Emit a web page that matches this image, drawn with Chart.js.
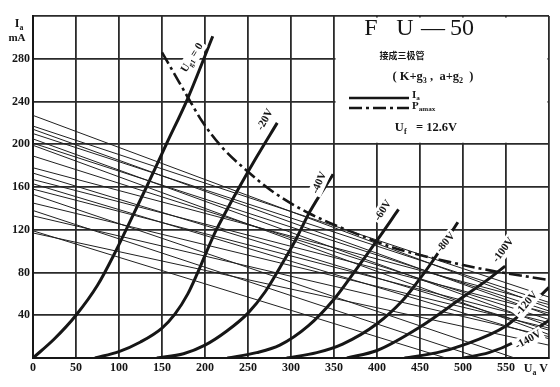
<!DOCTYPE html>
<html>
<head>
<meta charset="utf-8">
<script src="https://cdn.jsdelivr.net/npm/chart.js@4.4.1/dist/chart.umd.min.js"></script>
<style>
  html, body { margin: 0; padding: 0; background: #fff; }
  #wrap { width: 560px; height: 387px; }
</style>
</head>
<body>
<div id="wrap"><canvas id="chart"></canvas></div>
<script>
// FU-50 接成三极管 — anode characteristics, Ia (mA) vs Ua (V)

// thick curves, one per grid-1 voltage: [Ua V, Ia mA]
const ug0   = [[0,0],[25,18],[50,40],[75,68],[95,98],[110,123],[132,160],[155,200],[180,243],[209,301]];
const ug20  = [[72,0],[100,6],[125,15],[150,28],[165,41],[180,60],[191,79],[200,96],[212,118],[225,138],[240,160],[260,188],[284,220]];
const ug40  = [[144,0],[175,4],[200,12],[225,25],[250,42],[270,62],[291,90],[305,110],[322,137],[349,172]];
const ug60  = [[226,0],[260,5],[287,12],[320,30],[350,55],[375,82],[400,110],[425,139]];
const ug80  = [[295,0],[330,5],[360,13],[400,32],[430,54],[446,70],[465,91],[494,127]];
const ug100 = [[365,0],[400,7],[450,29],[500,57],[530,74],[549,86]];
const ug120 = [[432,0],[470,5],[500,12],[550,30],[575,47],[600,66]];
const ug140 = [[500,0],[530,5],[560,15],[600,35]];

// Pa max (dash-dot)
const paMax = [[150,286],[165,265],[180,244],[197,221],[220,197],[249,175],[280,155],[322,135],[380,115],[420,103],[462,94],[531,82],[600,73]];

// thin straight lines: Ia at Ua = 0, and where each one ends
const lineStartI = [227, 217, 214, 210, 205, 201, 199, 189, 178, 173, 167, 163, 158, 153, 145, 138, 133, 119, 117];
const lineEnd    = [[600,47],[600,57],[600,40],[600,52],[600,30],[600,44],[600,22],[600,36],[600,50],[600,26],
                    [600,42],[600,18],[600,33],[560,0],[600,28],[520,0],[600,20],[480,0],[600,12]];

const xTicks = [0, 50, 100, 150, 200, 250, 300, 350, 400, 450, 500, 550];
const yTicks = [40, 80, 120, 160, 200, 240, 280];

// curve captions: text, anchor [Ua, Ia], angle (deg)
const curveNames  = ['0', '-20V', '-40V', '-60V', '-80V', '-100V', '-120V', '-140V'];
const labelAnchor = [[185,281],[270,223],[333,164],[407,138],[480,108],[547,101],[574,51],[576,17]];
const labelAngle  = [-58, -61, -66, -57, -50, -53, -50, -29];

const INK = '#161616';
const SERIF = '"Liberation Serif", "DejaVu Serif", serif';

const pts = arr => arr.map(([x, y]) => ({ x, y }));

const thinSets = lineStartI.map((i0, k) => ({
  data: [{ x: 0, y: i0 }, { x: lineEnd[k][0], y: lineEnd[k][1] }],
  borderColor: '#202020', borderWidth: 1, showLine: true, pointRadius: 0,
}));

const thickSets = [ug0, ug20, ug40, ug60, ug80, ug100, ug120, ug140].map(c => ({
  data: pts(c),
  borderColor: INK, borderWidth: 3, showLine: true, pointRadius: 0,
  cubicInterpolationMode: 'monotone',
}));

const paSet = {
  data: pts(paMax),
  borderColor: INK, borderWidth: 2.6, borderDash: [13, 4, 3, 4],
  showLine: true, pointRadius: 0, cubicInterpolationMode: 'monotone',
};

// text with subscripts, parts = [[text, isSub], ...]
function rich(ctx, parts, x, y, size, align) {
  const font = s => `bold ${s}px ${SERIF}`;
  let w = 0;
  parts.forEach(([t, sub]) => { ctx.font = font(sub ? size * 0.65 : size); w += ctx.measureText(t).width; });
  let cx = align === 'center' ? x - w / 2 : align === 'right' ? x - w : x;
  ctx.textAlign = 'left';
  ctx.textBaseline = 'middle';
  parts.forEach(([t, sub]) => {
    ctx.font = font(sub ? size * 0.65 : size);
    ctx.fillText(t, cx, sub ? y + size * 0.3 : y);
    cx += ctx.measureText(t).width;
  });
  return w;
}

const paperPlugin = {
  id: 'paper',
  beforeDatasetsDraw(chart) {
    const { ctx, scales: { x, y } } = chart;
    // legend box blanks the grid behind it
    const l = x.getPixelForValue(350), r = x.getPixelForValue(600);
    const t = y.getPixelForValue(320), b = y.getPixelForValue(200);
    ctx.save();
    ctx.fillStyle = '#fff';
    ctx.fillRect(l + 1.5, t + 1.5, r - l - 3, b - t - 3);
    ctx.restore();
  },
  afterDatasetsDraw(chart) {
    const { ctx, scales: { x, y }, chartArea: ca } = chart;
    ctx.save();
    ctx.fillStyle = INK;

    // axis units
    rich(ctx, [['I', false], ['a', true]], 19, 24, 12, 'center');
    rich(ctx, [['mA', false]], 17, 38, 11, 'center');
    rich(ctx, [['U', false], ['a', true], [' V', false]], ca.right - 1, ca.bottom + 11, 12, 'right');

    // legend box
    const l = x.getPixelForValue(350);
    ctx.font = `24px ${SERIF}`;
    ctx.textBaseline = 'middle';
    ctx.textAlign = 'center';
    ctx.fillText('F', l + 37, 29);
    ctx.fillText('U', l + 71, 29);
    ctx.fillText('—', l + 99, 29);
    ctx.fillText('50', l + 128, 29);

    ctx.font = `bold 9px "Noto Sans CJK SC", sans-serif`;
    ctx.fillText('接成三极管', l + 68, 56);

    rich(ctx, [['( K+g', false], ['3', true], [' ,  a+g', false], ['2', true], ['  )', false]], l + 99, 77, 12.5, 'center');

    ctx.lineWidth = 2.6;
    ctx.strokeStyle = INK;
    ctx.beginPath(); ctx.moveTo(l + 15, 98); ctx.lineTo(l + 75, 98); ctx.stroke();
    ctx.setLineDash([13, 4, 3, 4]);
    ctx.beginPath(); ctx.moveTo(l + 15, 108); ctx.lineTo(l + 75, 108); ctx.stroke();
    ctx.setLineDash([]);
    rich(ctx, [['I', false], ['a', true]], l + 78, 95, 11, 'left');
    rich(ctx, [['P', false], ['amax', true]], l + 78, 106, 11, 'left');
    rich(ctx, [['U', false], ['f', true], ['   = 12.6V', false]], l + 92, 128, 12.5, 'center');

    // curve captions
    curveNames.forEach((name, k) => {
      const px = x.getPixelForValue(labelAnchor[k][0]);
      const py = y.getPixelForValue(labelAnchor[k][1]);
      ctx.save();
      ctx.translate(px, py);
      ctx.rotate(labelAngle[k] * Math.PI / 180);
      const parts = k === 0 ? [['U', false], ['g1', true], [' = 0', false]] : [[name, false]];
      let w = 0;
      parts.forEach(([t, sub]) => { ctx.font = `bold ${sub ? 7 : 11}px ${SERIF}`; w += ctx.measureText(t).width; });
      ctx.fillStyle = '#fff';
      ctx.fillRect(-w / 2 - 2, -7, w + 4, 14);
      ctx.fillStyle = INK;
      rich(ctx, parts, 0, 0, 11, 'center');
      ctx.restore();
    });
    ctx.restore();
  },
};

const tickFont = { family: SERIF, size: 12, weight: 'bold' };

new Chart(document.getElementById('chart'), {
  type: 'scatter',
  data: { datasets: [...thinSets, ...thickSets, paSet] },
  options: {
    responsive: true, maintainAspectRatio: false, animation: false,
    devicePixelRatio: 1,
    layout: { padding: { top: 16, right: 11, left: 0, bottom: 0 } },
    plugins: { legend: { display: false }, tooltip: { enabled: false } },
    scales: {
      x: {
        type: 'linear', min: 0, max: 600,
        afterFit: s => { s.height = 29; },
        afterBuildTicks: s => { s.ticks = [...xTicks, 600].map(v => ({ value: v })); },
        ticks: { color: INK, font: tickFont, padding: 3, maxRotation: 0, autoSkip: false,
                 callback: v => (xTicks.includes(v) ? String(v) : '') },
        grid: { color: '#2a2a2a', lineWidth: 1.8, drawTicks: false },
        border: { display: true, color: INK, width: 2 },
      },
      y: {
        type: 'linear', min: 0, max: 320,
        afterFit: s => { s.width = 33; },
        afterBuildTicks: s => { s.ticks = [0, ...yTicks, 320].map(v => ({ value: v })); },
        ticks: { color: INK, font: tickFont, padding: 3,
                 callback: v => (yTicks.includes(v) ? String(v) : '') },
        grid: { color: '#2a2a2a', lineWidth: 1.8, drawTicks: false },
        border: { display: true, color: INK, width: 2 },
      },
    },
  },
  plugins: [paperPlugin],
});
</script>
</body>
</html>
